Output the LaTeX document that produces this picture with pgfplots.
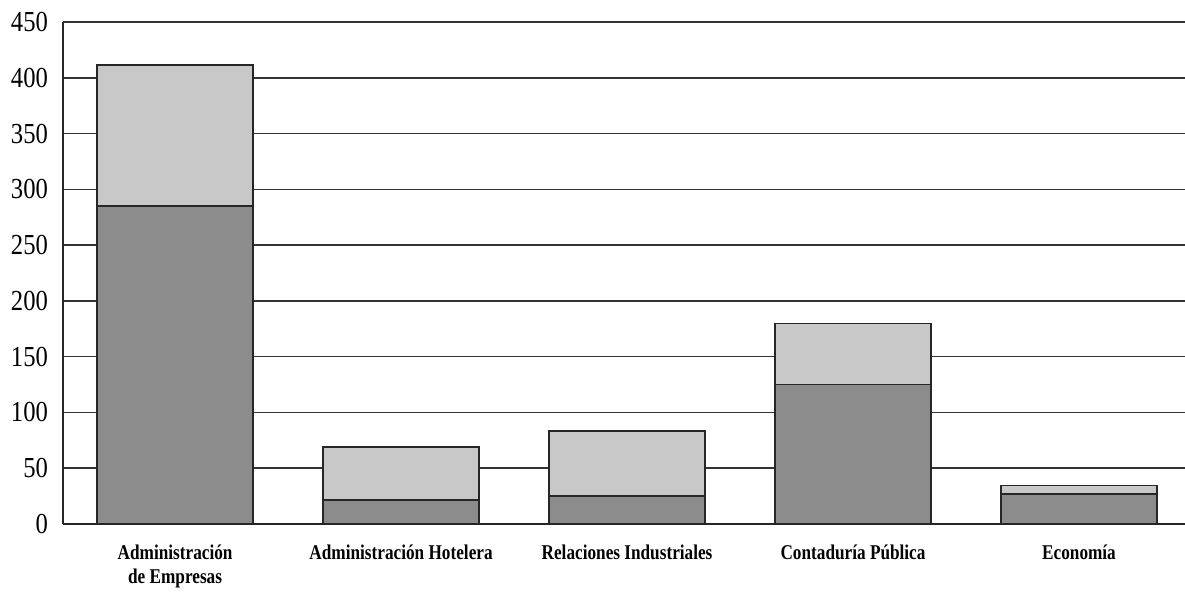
\documentclass[border=0pt]{standalone}
\usepackage{pgfplots}
\pgfplotsset{compat=1.18}
\usepackage{fontspec}
\setmainfont{Liberation Serif}
\newfontfamily\labfont[FakeStretch=0.82]{Liberation Serif}
\newfontfamily\numfont[FakeStretch=0.85]{Liberation Serif}
\definecolor{botc}{RGB}{140,140,140}
\definecolor{topc}{RGB}{200,200,200}
\begin{document}
\begin{tikzpicture}
\useasboundingbox (-31.5pt,-36pt) rectangle (561pt,262pt);
\begin{axis}[
  at={(0,0)}, anchor=south west,
  scale only axis, width=561pt, height=251pt,
  ybar stacked, bar width=78pt,
  xmin=-0.496, xmax=4.469,
  ymin=0, ymax=450, ytick={0,50,...,450},
  xtick={0,1,2,3,4},
  xticklabels={{Administración\\de Empresas},{Administración Hotelera},{Relaciones Industriales},{Contaduría Pública},{Economía}},
  xticklabel style={align=center, font=\labfont\bfseries\fontsize{10.5}{12}\selectfont, yshift=-7pt},
  yticklabel style={font=\numfont\fontsize{14.5}{15}\selectfont, xshift=-4pt},
  /pgf/number format/assume math mode=true,
  axis x line=bottom, axis y line=left,
  axis line style={-, line width=0.9pt, black!85},
  major tick length=0pt,
  ymajorgrids, grid style={line width=0.8pt, black!80},
  clip=false,
]
\addplot[fill=botc, draw=black!85, line width=0.7pt] coordinates {(0,285) (1,21.5) (2,25) (3,125) (4,27)};
\addplot[fill=topc, draw=black!85, line width=0.7pt] coordinates {(0,126.5) (1,47.5) (2,58.5) (3,55) (4,7.5)};
\end{axis}
\end{tikzpicture}
\end{document}
